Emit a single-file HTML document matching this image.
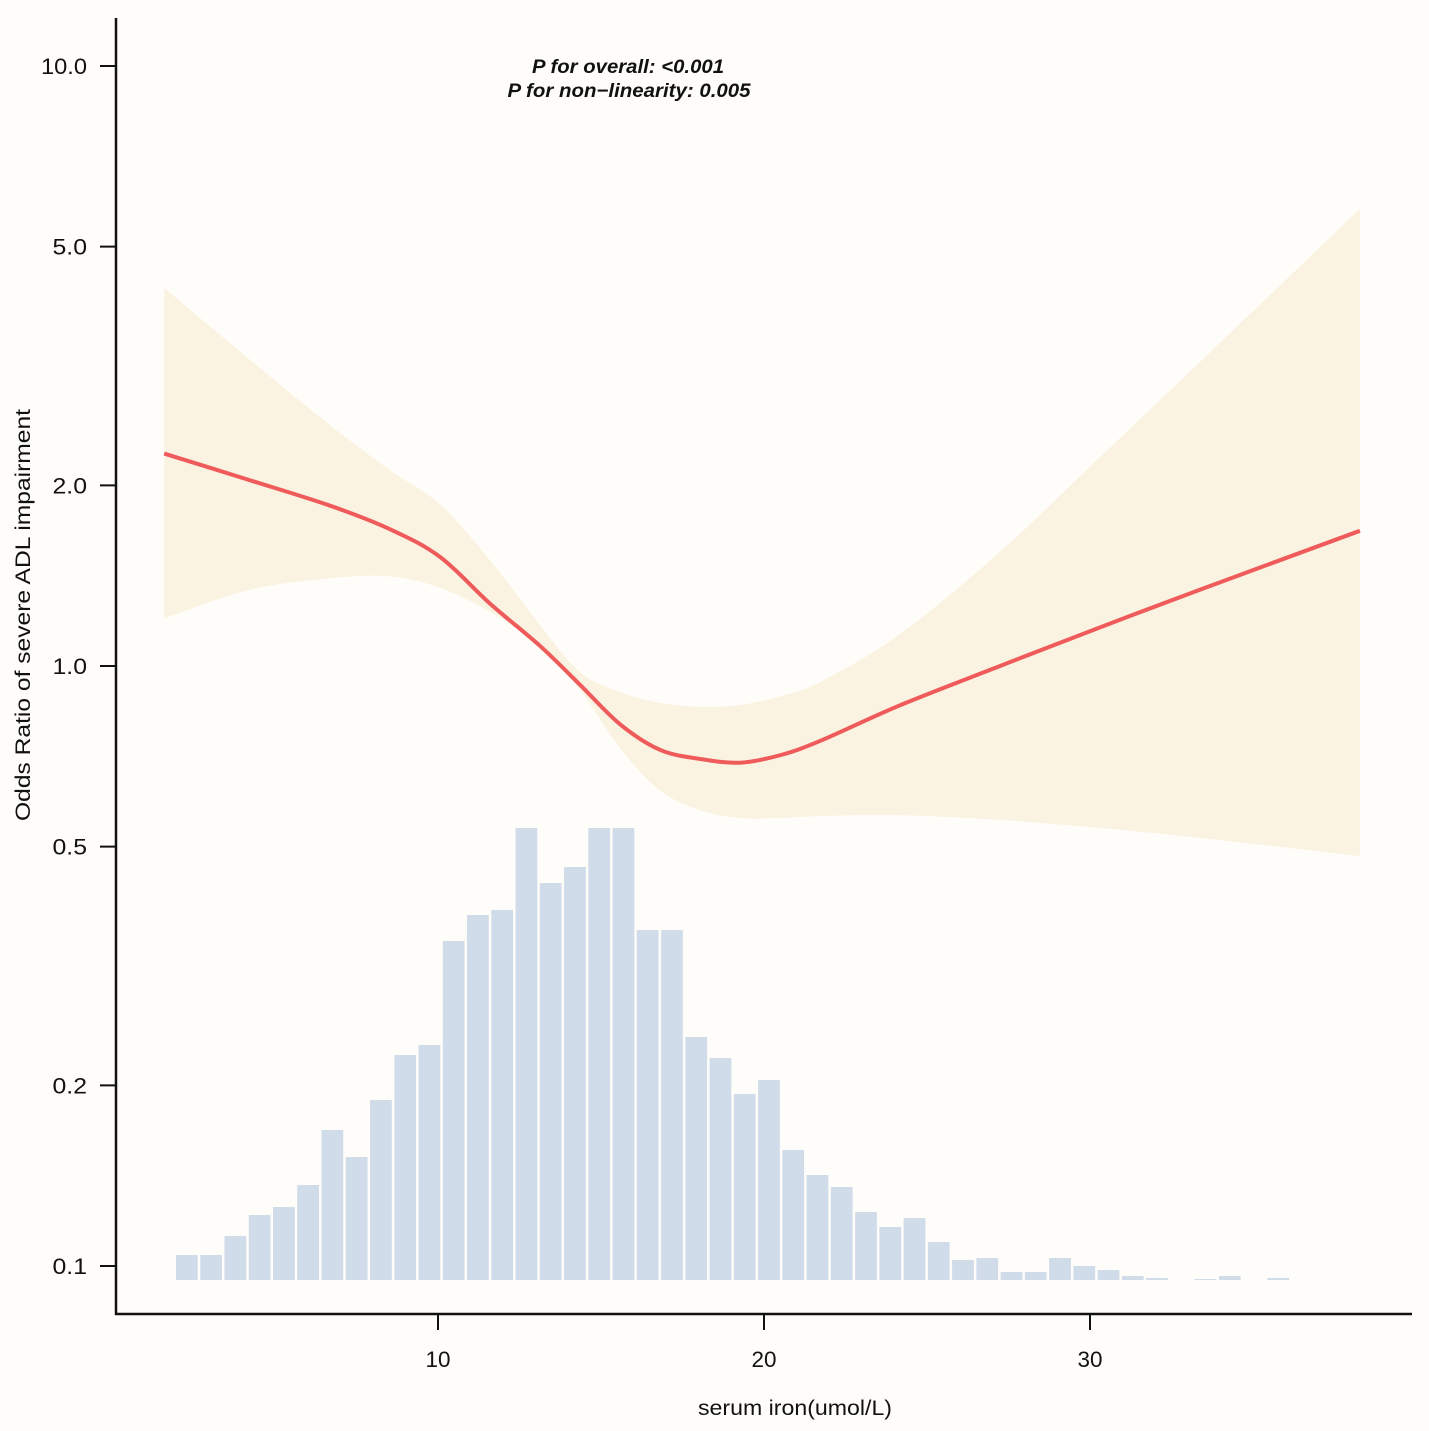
<!DOCTYPE html>
<html><head><meta charset="utf-8"><style>
html,body{margin:0;padding:0;background:#fffdf9;}
svg{display:block;font-family:"Liberation Sans",sans-serif;}
</style></head><body>
<svg id="chart" width="1429" height="1431" viewBox="0 0 1429 1431">
<rect width="1429" height="1431" fill="#fffdf9"/>
<g id="hist"></g>
<path id="band" fill="#fbf3e2"/>
<path id="line" fill="none" stroke="#ee5b5a" stroke-width="4"/>
<g id="axes"></g>
<text x="628" y="73" font-size="19" font-weight="bold" font-style="italic" text-anchor="middle" textLength="192" lengthAdjust="spacingAndGlyphs" fill="#111">P for overall: &lt;0.001</text>
<text x="629" y="97" font-size="19" font-weight="bold" font-style="italic" text-anchor="middle" textLength="243" lengthAdjust="spacingAndGlyphs" fill="#111">P for non−linearity: 0.005</text>
<text transform="translate(30,615) rotate(-90)" font-size="21" text-anchor="middle" textLength="412" lengthAdjust="spacingAndGlyphs" fill="#111">Odds Ratio of severe ADL impairment</text>
<text x="795" y="1415" font-size="21" text-anchor="middle" textLength="194" lengthAdjust="spacingAndGlyphs" fill="#111">serum iron(umol/L)</text>
</svg>
<script>
const xs=[1.6,4.23,6.69,8.53,10.06,11.6,13.13,14.36,15.58,16.81,18.04,19.26,20.49,21.72,24.17,27.24,30.31,33.37,38.28];
const orVals=[2.26,2.04,1.85,1.69,1.52,1.27,1.08,0.93,0.80,0.725,0.70,0.69,0.71,0.75,0.86,1.0,1.16,1.34,1.68];
const upperVals=[4.27,3.24,2.52,2.12,1.86,1.50,1.17,0.977,0.905,0.868,0.855,0.861,0.89,0.94,1.13,1.55,2.23,3.21,5.78];
const lowerVals=[1.20,1.34,1.40,1.41,1.35,1.23,1.08,0.912,0.73,0.62,0.575,0.558,0.558,0.562,0.564,0.554,0.537,0.517,0.482];
const binStart=1.963, binWidth=0.744;
const counts=[25,25,44,65,73,95,150,123,180,225,235,339,365,370,452,397,413,452,452,350,350,243,222,186,200,130,105,93,68,53,62,38,20,22,8,8,22,14,10,4,2,0,1,4,0,2];
const yTicks=[0.1,0.2,0.5,1.0,2.0,5.0,10.0];
const yTickLabels=["0.1","0.2","0.5","1.0","2.0","5.0","10.0"];
const xTicks=[10,20,30];

const NS="http://www.w3.org/2000/svg";
const X=v=>112+32.6*v;
const Y=v=>666-600*Math.log10(v);
const H=c=>1280-c;
function mk(tag,attrs,parent){const e=document.createElementNS(NS,tag);for(const k in attrs)e.setAttribute(k,attrs[k]);parent.appendChild(e);return e;}
function smooth(pts){let d="";for(let i=0;i<pts.length-1;i++){const p0=pts[Math.max(i-1,0)],p1=pts[i],p2=pts[i+1],p3=pts[Math.min(i+2,pts.length-1)];
 const c1=[p1[0]+(p2[0]-p0[0])/6,p1[1]+(p2[1]-p0[1])/6],c2=[p2[0]-(p3[0]-p1[0])/6,p2[1]-(p3[1]-p1[1])/6];
 d+=` C${c1[0]},${c1[1]} ${c2[0]},${c2[1]} ${p2[0]},${p2[1]}`;}return d;}
const hist=document.getElementById('hist');
counts.forEach((c,i)=>{if(c<=0)return;const x0=X(binStart+i*binWidth);const w=32.6*binWidth-2.5;
 const r=mk('rect',{x:x0,y:H(c),width:w,height:c,fill:'#d0dcea'},hist);
 
 });
const up=xs.map((x,i)=>[X(x),Y(upperVals[i])]);
const lo=xs.map((x,i)=>[X(x),Y(lowerVals[i])]).reverse();
document.getElementById('band').setAttribute('d',`M${up[0][0]},${up[0][1]}`+smooth(up)+` L${lo[0][0]},${lo[0][1]}`+smooth(lo)+'Z');
const ln=xs.map((x,i)=>[X(x),Y(orVals[i])]);
document.getElementById('line').setAttribute('d',`M${ln[0][0]},${ln[0][1]}`+smooth(ln));
const ax=document.getElementById('axes');
const ya=mk('line',{x1:116,y1:18,x2:116,y2:1315,stroke:'#111','stroke-width':2.5},ax);


const xa=mk('line',{x1:115,y1:1314,x2:1412,y2:1314,stroke:'#111','stroke-width':2.5},ax);


yTicks.forEach((v,i)=>{const y=Y(v);
 const t=mk('line',{x1:100,y1:y,x2:116,y2:y,stroke:'#111','stroke-width':2},ax);
 
 
 const lab=yTickLabels[i];
 const tx=mk('text',{x:87,y:y+8,'font-size':22,'text-anchor':'end',fill:'#111',textLength:lab.length*11.5,lengthAdjust:'spacingAndGlyphs'},ax);
 tx.textContent=lab;
 
 });
xTicks.forEach(v=>{const x=X(v);
 const t=mk('line',{x1:x,y1:1314,x2:x,y2:1330,stroke:'#111','stroke-width':2},ax);
 
 
 const tx=mk('text',{x:x,y:1367,'font-size':22,'text-anchor':'middle',fill:'#111',textLength:25,lengthAdjust:'spacingAndGlyphs'},ax);
 tx.textContent=String(v);
 
 });
</script>
</body></html>
